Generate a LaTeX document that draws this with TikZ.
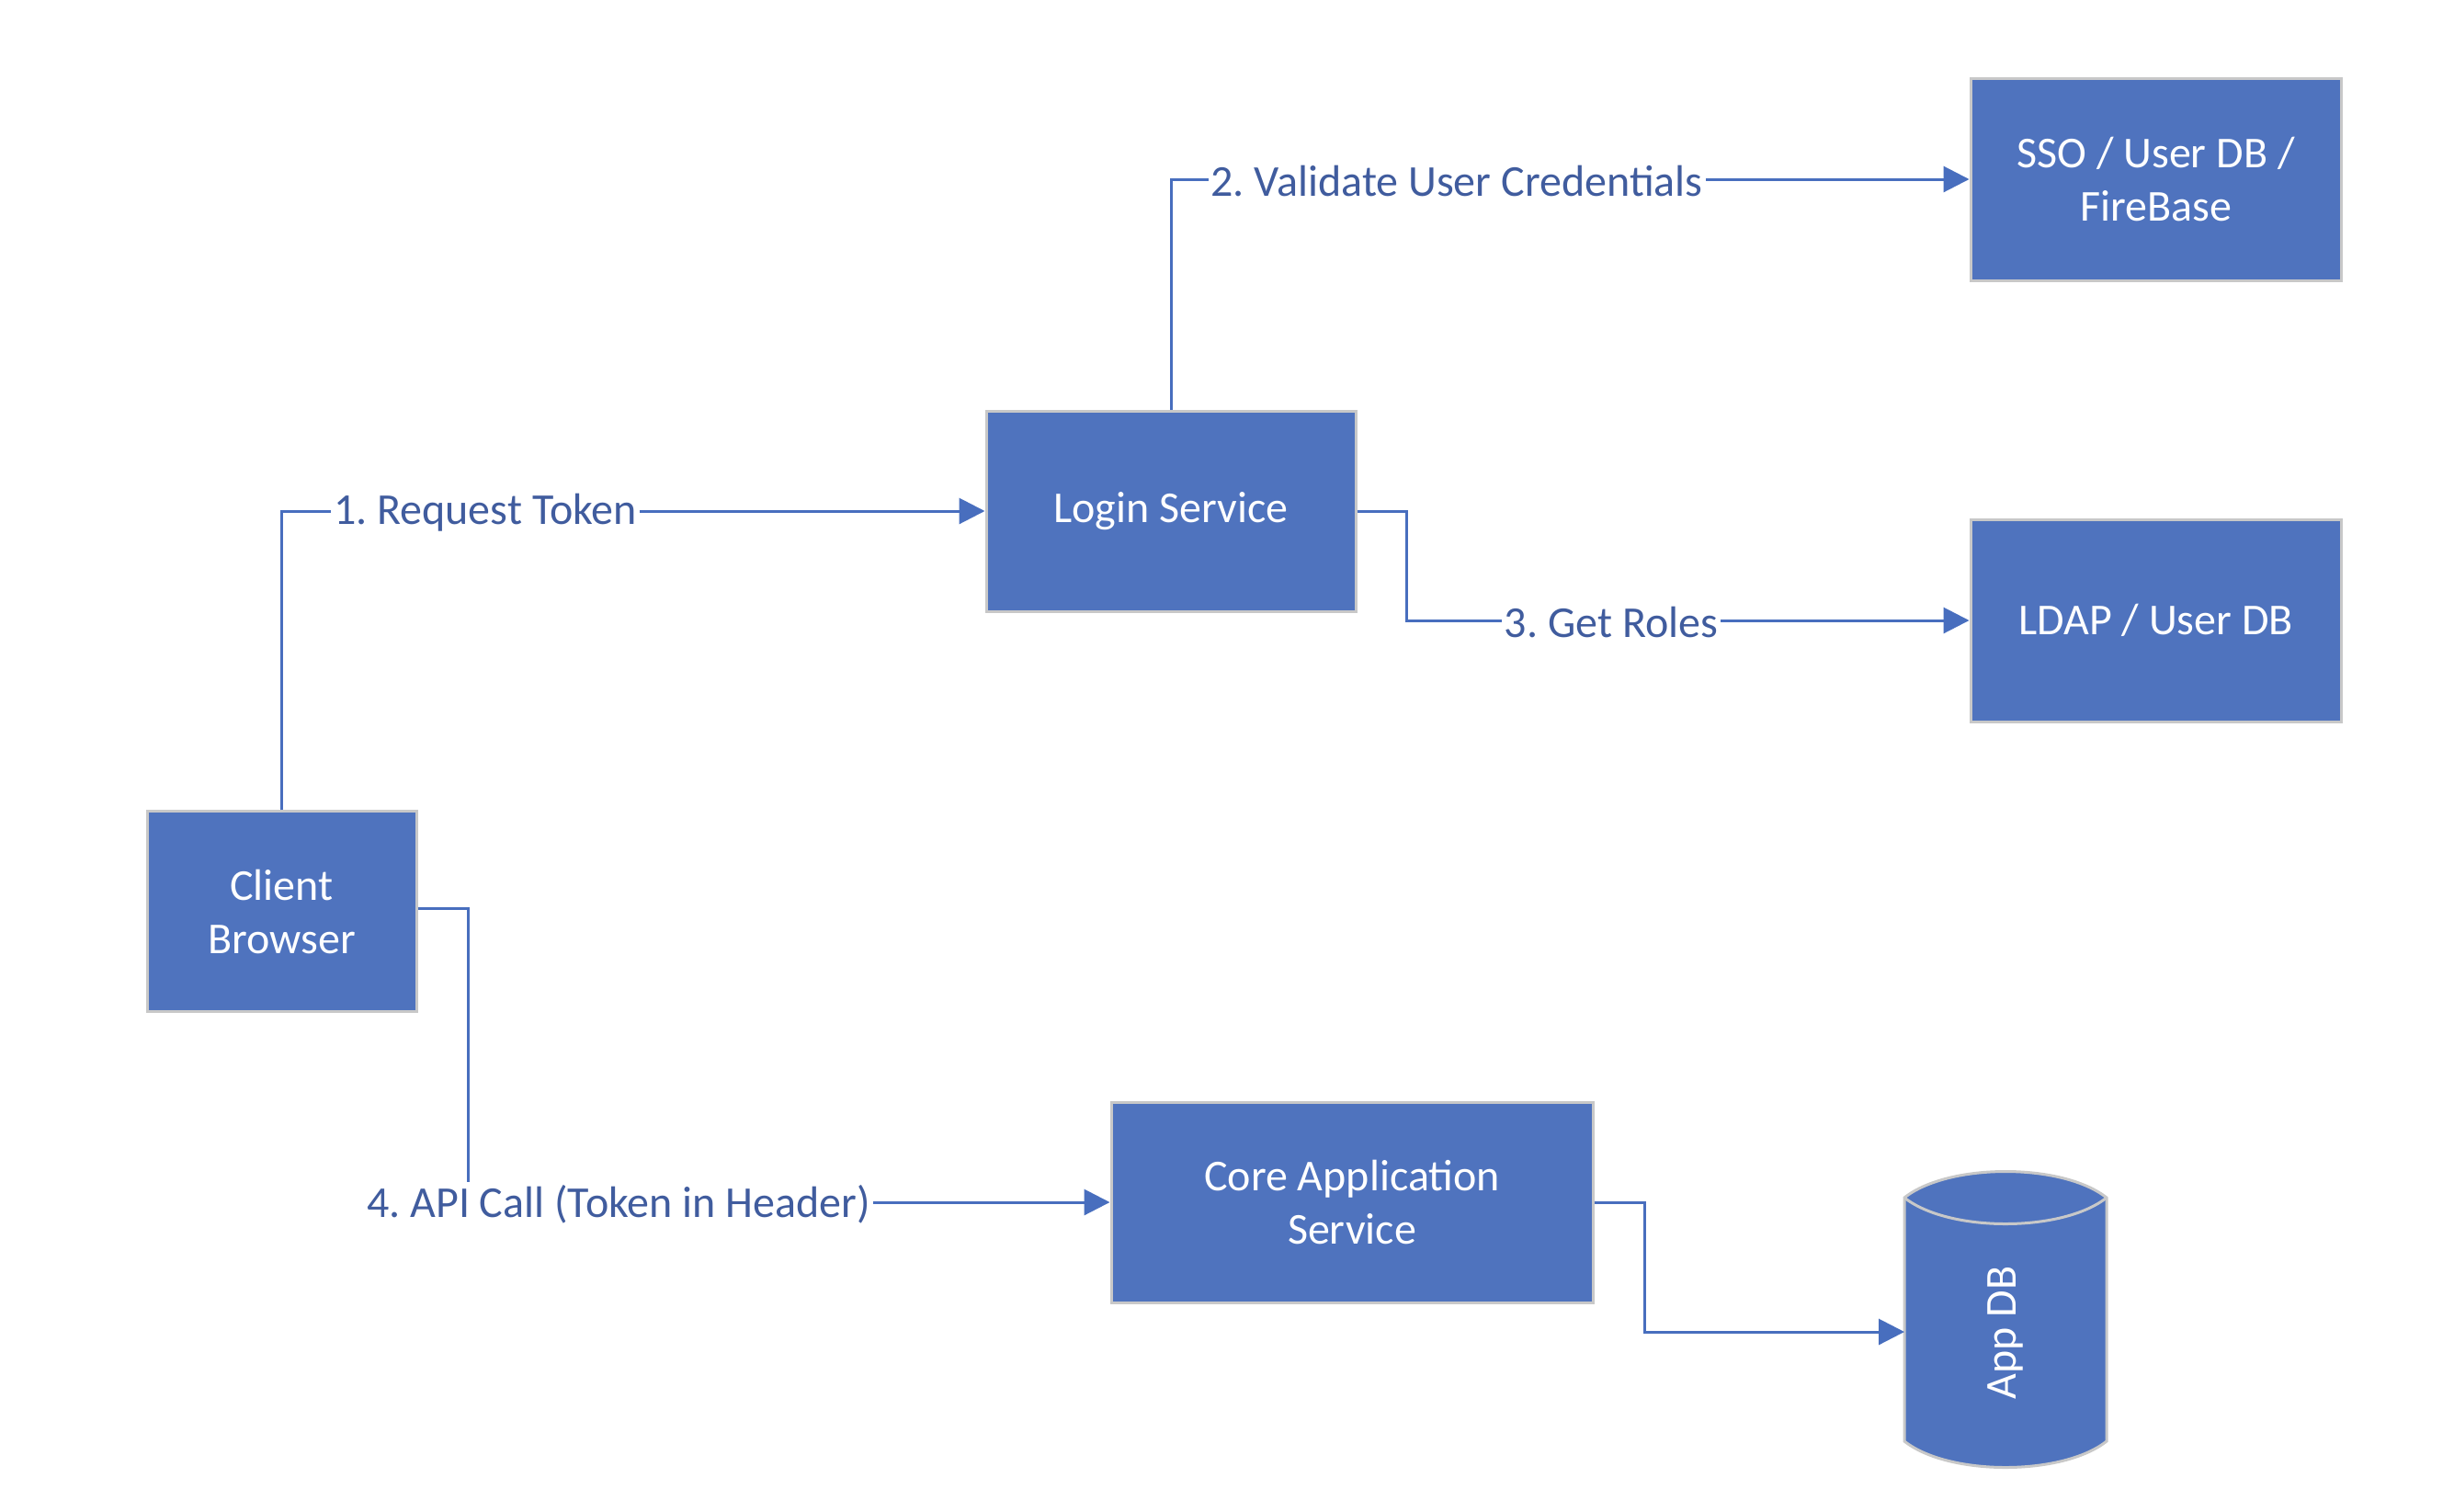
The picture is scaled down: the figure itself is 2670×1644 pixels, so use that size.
\documentclass[tikz,border=0pt]{standalone}
\usepackage{fontspec}
\setmainfont{Carlito}
\usetikzlibrary{arrows.meta}
\definecolor{boxfill}{RGB}{79,115,190}
\definecolor{boxline}{RGB}{200,200,200}
\definecolor{conn}{RGB}{72,110,190}
\definecolor{lbltext}{RGB}{64,92,158}
\frenchspacing
\begin{document}
\begin{tikzpicture}[x=0.5pt,y=-0.5pt,
  box/.style={draw=boxline, line width=1.5pt, fill=boxfill, text=white,
    font=\fontsize{24}{29}\selectfont\frenchspacing, align=center, inner sep=0pt},
  conn/.style={draw=conn, line width=1.5pt, -{Triangle[length=14pt,width=14pt]}},
  lbl/.style={fill=white, text=lbltext, font=\fontsize{24}{29}\selectfont\frenchspacing, inner sep=1.5pt, yshift=-1pt}]
\useasboundingbox (0,0) rectangle (2670,1644);

\node[box, minimum width=146.5pt, minimum height=109pt] (client) at (306.5,991.5) {Client\\Browser};
\node[box, minimum width=201pt, minimum height=109pt] (login) at (1274,556) {Login Service};
\node[box, minimum width=201.5pt, minimum height=110pt] (sso) at (2345.5,195) {SSO / User DB /\\FireBase};
\node[box, minimum width=201.5pt, minimum height=110pt] (ldap) at (2345.5,675) {LDAP / User DB};
\node[box, minimum width=262pt, minimum height=109pt] (core) at (1471,1308) {Core Application\\Service};

% App DB cylinder
\path[draw=boxline, line width=1.5pt, fill=boxfill]
  (2072,1303) .. controls (2120,1265) and (2244,1265) .. (2292,1303)
  -- (2292,1568) .. controls (2244,1606) and (2120,1606) .. (2072,1568) -- cycle;
\draw[boxline, line width=1.5pt] (2072,1303) .. controls (2120,1341) and (2244,1341) .. (2292,1303);
\node[text=white, font=\fontsize{24}{29}\selectfont, rotate=90, inner sep=0pt] (appdb) at (2182,1450) {App DB};
\coordinate (appdbin) at (2072,1449);

% connectors
\draw[conn] (client.north) |- (login.west);
\node[lbl] (l1) at (528,556) {1. Request Token};

\draw[conn] (login.north) |- (sso.west);
\node[lbl] (l2) at (1585,195) {2. Validate User Credentials};

\draw[conn] (login.east) -- ++(54,0) |- (ldap.west);
\node[lbl] (l3) at (1753,675) {3. Get Roles};

\draw[conn] ([yshift=1.5pt]client.east) -- ++(55,0) |- (core.west);
\node[lbl] (l4) at (673,1308) {4. API Call (Token in Header)};

\draw[conn] (core.east) -- ++(55,0) |- (appdbin);
\end{tikzpicture}
\end{document}
